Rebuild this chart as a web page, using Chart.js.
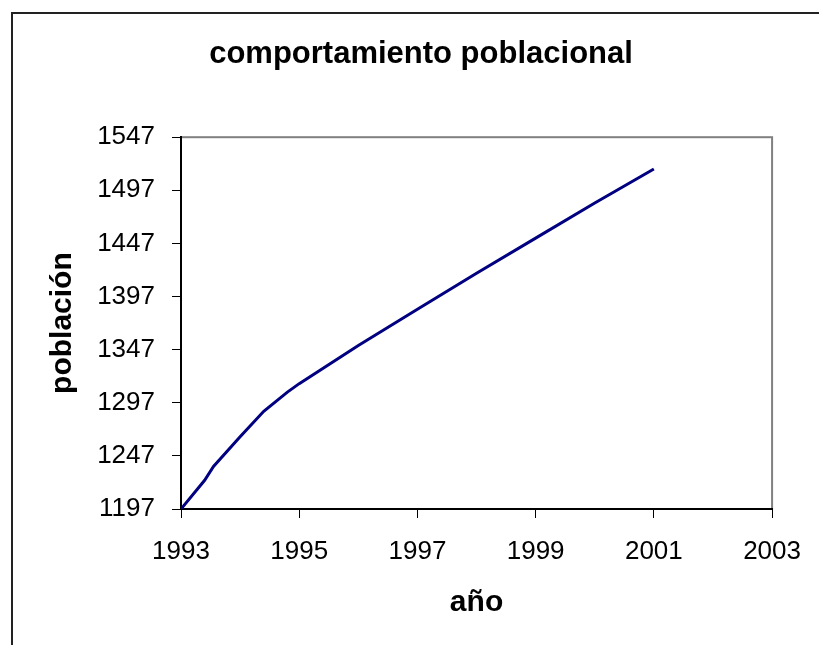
<!DOCTYPE html>
<html>
<head>
<meta charset="utf-8">
<script src="https://cdn.jsdelivr.net/npm/chart.js@4.4.1/dist/chart.umd.min.js"></script>
<style>
  html, body { margin: 0; padding: 0; background: #fff; }
  #wrap { width: 819px; height: 645px; position: relative; }
</style>
</head>
<body>
<div id="wrap"><canvas id="grafico"></canvas></div>
<script>
// valores
const anios = [1993, 1993.4, 1993.55, 1994, 1994.4, 1994.8, 1995, 1996, 1997, 1998, 1999, 2000, 2001];
const poblacion = [1197, 1224, 1237, 1265, 1289, 1307, 1315, 1351, 1385, 1419, 1452, 1485, 1517];
const ticksX = [1993, 1995, 1997, 1999, 2001, 2003];
const ticksY = [1197, 1247, 1297, 1347, 1397, 1447, 1497, 1547];

const fuente = "'Liberation Sans', Arial, sans-serif";

// marco exterior y borde gris del area de trazado
const marco = {
    id: 'marco',
    beforeDraw(chart) {
        const ctx = chart.ctx;
        const a = chart.chartArea;
        ctx.save();
        ctx.fillStyle = '#fff';
        ctx.fillRect(0, 0, chart.width, chart.height);
        ctx.strokeStyle = '#222';
        ctx.lineWidth = 2;
        ctx.beginPath();
        ctx.moveTo(12, chart.height);
        ctx.lineTo(12, 13);
        ctx.lineTo(chart.width, 13);
        ctx.stroke();
        ctx.strokeStyle = '#808080';
        ctx.lineWidth = 2;
        ctx.strokeRect(a.left, a.top, a.right - a.left, a.bottom - a.top);
        ctx.restore();
    }
};

new Chart(document.getElementById('grafico').getContext('2d'), {
    type: 'line',
    data: {
        datasets: [{
            label: 'población',
            data: anios.map((a, i) => ({ x: a, y: poblacion[i] })),
            borderColor: '#000080',
            borderWidth: 3,
            pointRadius: 0,
            tension: 0,
            fill: false
        }]
    },
    options: {
        responsive: true,
        maintainAspectRatio: false,
        animation: false,
        layout: { padding: { left: 69, right: 46, top: 0, bottom: 0 } },
        plugins: {
            legend: { display: false },
            tooltip: { enabled: false },
            title: {
                display: true,
                text: 'comportamiento poblacional',
                color: '#000',
                font: { family: fuente, size: 31, weight: 'bold' },
                padding: { top: 36, bottom: 64 }
            }
        },
        scales: {
            x: {
                type: 'linear',
                min: 1993,
                max: 2003,
                afterBuildTicks: s => { s.ticks = ticksX.map(v => ({ value: v })); },
                afterFit: s => { s.height = 136; },
                grid: { drawOnChartArea: false, drawTicks: true, tickLength: 9, color: '#000' },
                border: { display: true, color: '#000', width: 2 },
                ticks: {
                    color: '#000',
                    font: { family: fuente, size: 26 },
                    padding: 18,
                    maxRotation: 0,
                    autoSkip: false,
                    callback: v => String(v)
                },
                title: {
                    display: true,
                    text: 'año',
                    color: '#000',
                    font: { family: fuente, size: 30, weight: 'bold' },
                    padding: { top: 0, bottom: 24 }
                }
            },
            y: {
                min: 1197,
                max: 1547,
                afterBuildTicks: s => { s.ticks = ticksY.map(v => ({ value: v })); },
                afterFit: s => { s.width = 112; },
                grid: { drawOnChartArea: false, drawTicks: true, tickLength: 9, color: '#000' },
                border: { display: true, color: '#000', width: 2 },
                ticks: {
                    color: '#000',
                    font: { family: fuente, size: 26 },
                    padding: 17,
                    autoSkip: false,
                    callback: v => String(v)
                },
                title: {
                    display: true,
                    text: 'población',
                    color: '#000',
                    font: { family: fuente, size: 30, weight: 'bold' },
                    padding: { top: -24, bottom: 0 }
                }
            }
        }
    },
    plugins: [marco]
});
</script>
</body>
</html>
